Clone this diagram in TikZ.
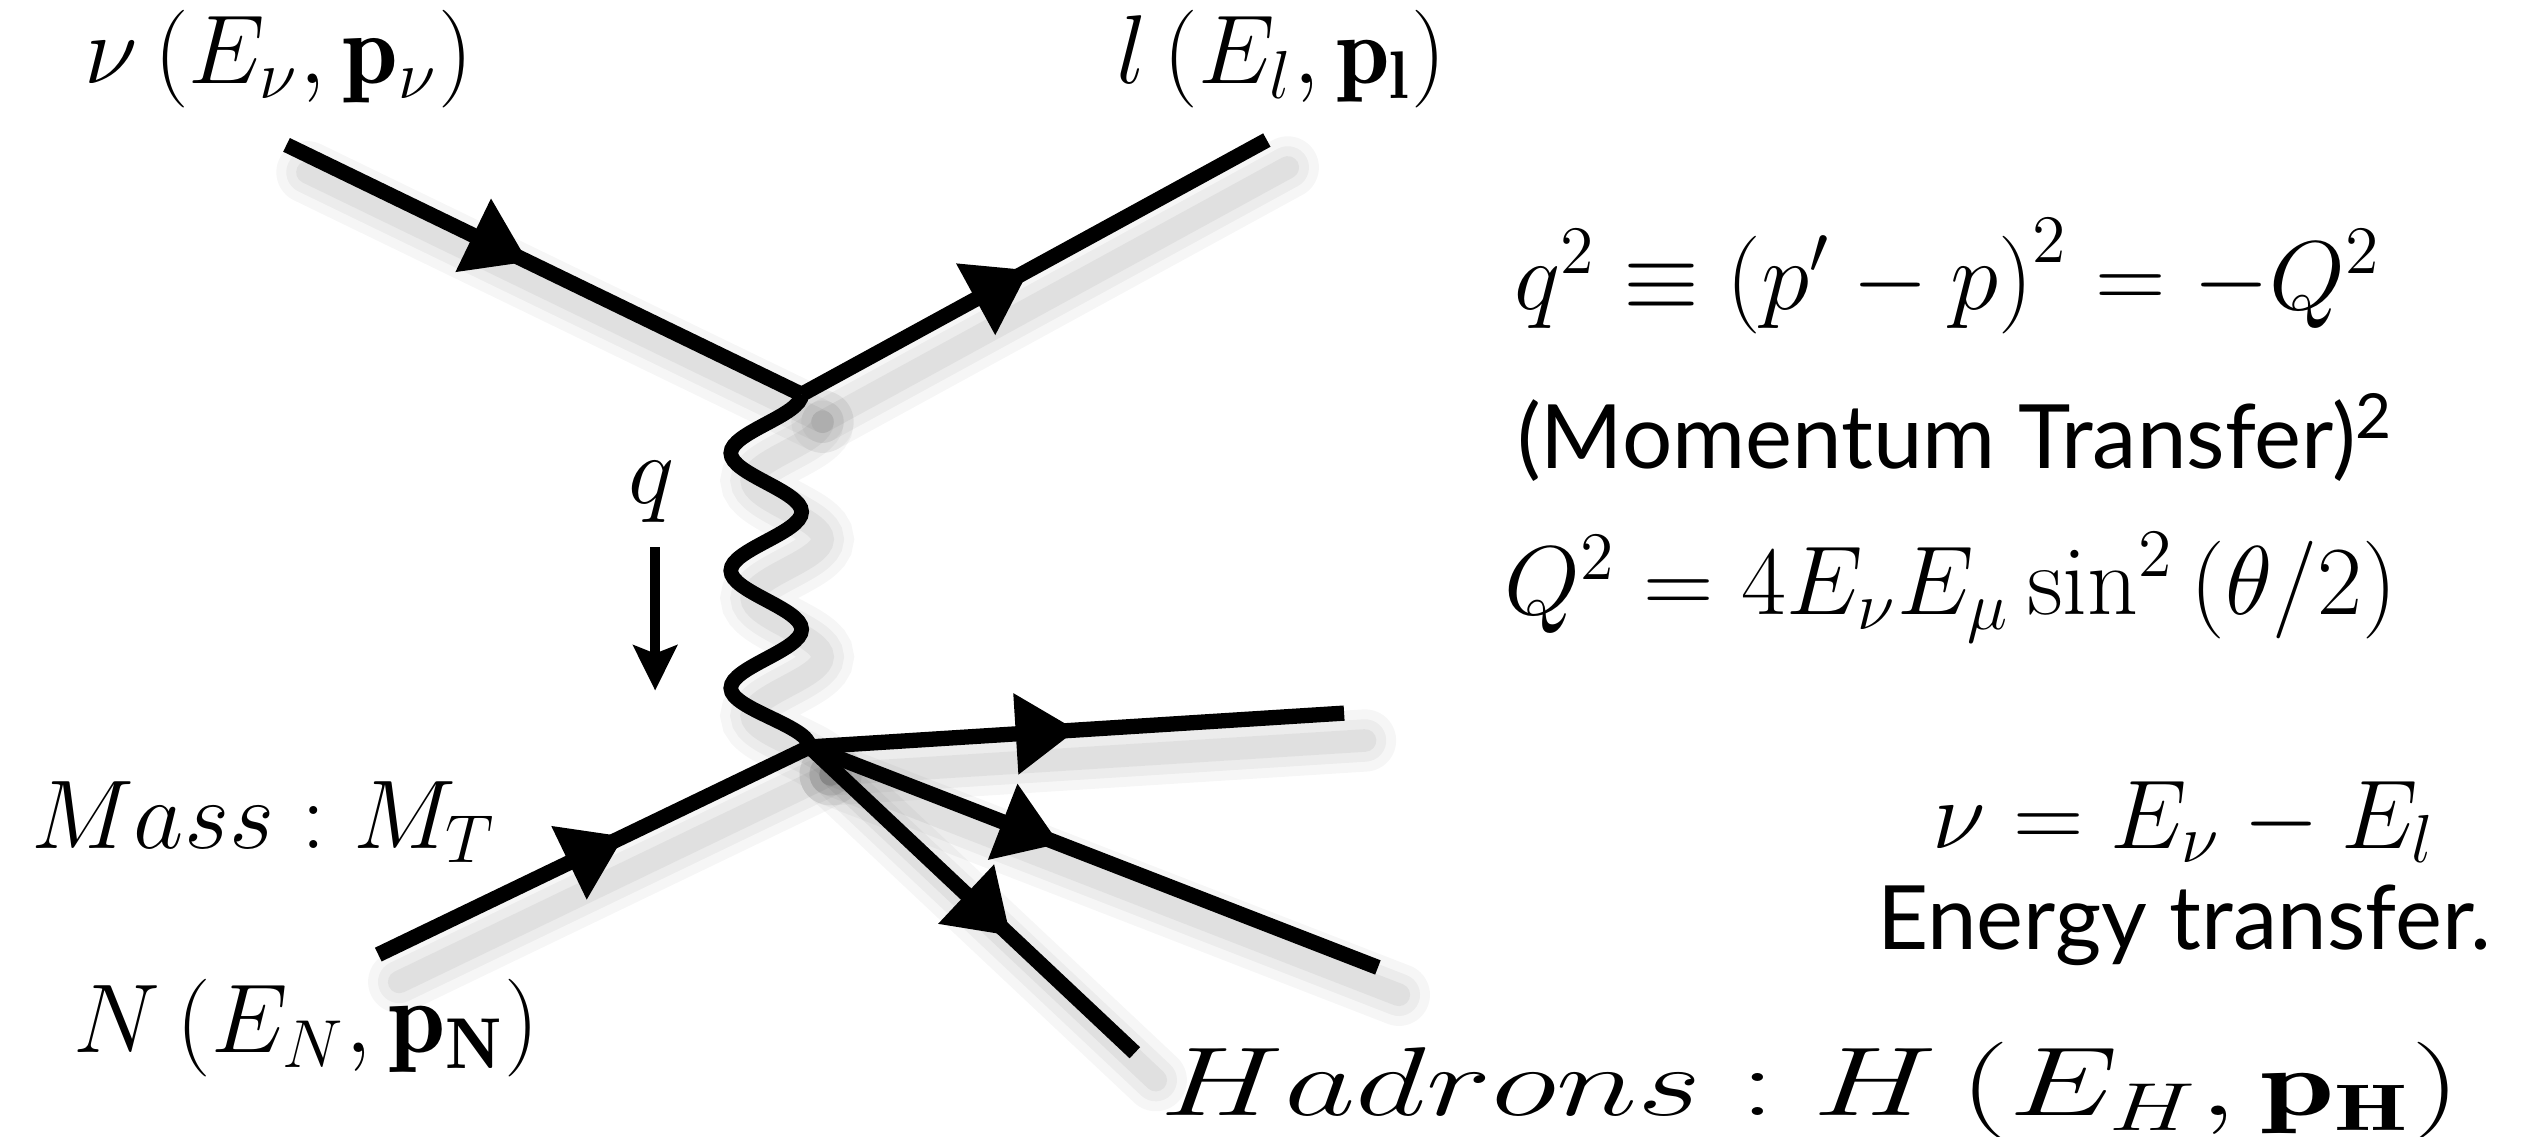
\documentclass[tikz,border=0pt]{standalone}
\usepackage{amsmath}
\usepackage{bm}
\usepackage{amssymb}
\usepackage{fontspec}
\newfontfamily\gillfont{Lato}
\usetikzlibrary{arrows.meta,decorations.markings}

\begin{document}
\begin{tikzpicture}[
    shadowed/.style={
        preaction={draw=black,draw opacity=0.035,line width=11pt,line cap=round,transform canvas={shift={(0.13,-0.17)}}},
        preaction={draw=black,draw opacity=0.04,line width=7.5pt,line cap=round,transform canvas={shift={(0.13,-0.17)}}},
        preaction={draw=black,draw opacity=0.05,line width=4pt,line cap=round,transform canvas={shift={(0.13,-0.17)}}}},
    fermion/.style={shadowed,line width=2.7pt,postaction={decorate},
        decoration={markings,mark=at position #1 with {\arrow{Triangle[length=0.38cm,width=0.48cm]}}}},
    boson/.style={shadowed,line width=2.6pt},
    lbl/.style={anchor=base,inner sep=0pt,font=\fontsize{#1}{20}\selectfont},
    lbl/.default=17,
    txt/.style={anchor=base,inner sep=0pt,font=\fontsize{15.7}{19}\selectfont\gillfont}]
    \useasboundingbox (0,0) rectangle (15.68,7.06);
    % Vertices and ends
    \coordinate (v1) at (4.98,4.61);
    \coordinate (v2) at (5.03,2.42);
    \coordinate (nu) at (1.78,6.16);
    \coordinate (lep) at (7.87,6.19);
    \coordinate (nuc) at (2.35,1.13);
    \coordinate (h1) at (8.35,2.63);
    \coordinate (h2) at (8.56,1.05);
    \coordinate (h3) at (7.05,0.52);
    \coordinate (qa) at (4.07,3.66);
    \coordinate (qb) at (4.07,2.77);
    % Labels
    \node[lbl=17.7] (nulbl) at (1.73,6.54) {$\nu\left(E_\nu,\mathbf{p}_\nu\right)$};
    \node[lbl=17] (leplbl) at (7.96,6.54) {$l\left(E_l,\mathbf{p_l}\right)$};
    \node[lbl] (qlbl) at (4.05,3.93) {$q$};
    \node[lbl=17.3] (mass) at (1.64,1.79) {$Mass: M_T$};
    \node[lbl=18.2] (nuclbl) at (1.905,0.52) {$N\left(E_N,\mathbf{p_N}\right)$};
    \node[lbl=16.6,xscale=1.42] (had) at (11.25,0.13) {$Hadrons: H\left(E_H,\mathbf{p_H}\right)$};
    \node[lbl=17.9] (qsq) at (12.10,5.14) {$q^2\equiv\left(p'-p\right)^2=-Q^2$};
    \node[txt] (mom) at (12.15,4.15) {(Momentum Transfer)\textsuperscript{2}};
    \node[lbl=17.6] (Qsq) at (12.12,3.24) {$Q^2=4E_\nu E_\mu\sin^2\left(\theta/2\right)$};
    \node[lbl=17.3] (enu) at (13.57,1.79) {$\nu=E_\nu-E_l$};
    \node[txt] (etr) at (13.57,1.16) {Energy transfer.};
    % Lines
    \draw[fermion=0.47] (nu) -- (v1);
    \draw[fermion=0.49] (v1) -- (lep);
    \draw[boson] (v1) \foreach \s in {-1,1,-1,1,-1} {
        .. controls +(0,-0.13) and +(0,0.13) .. ++(\s*0.44,-0.365)}
        .. controls +(0,-0.13) and +(0,0.13) .. (v2);
    \draw[fermion=0.57] (nuc) -- (v2);
    \draw[fermion=0.50] (v2) -- (h1);
    \draw[fermion=0.44] (v2) -- (h2);
    \draw[fermion=0.62] (v2) -- (h3);
    \draw[line width=1.7pt,-{Stealth[length=0.28cm,width=0.27cm,inset=0.05cm]}] (qa) -- (qb);
\end{tikzpicture}
\end{document}
